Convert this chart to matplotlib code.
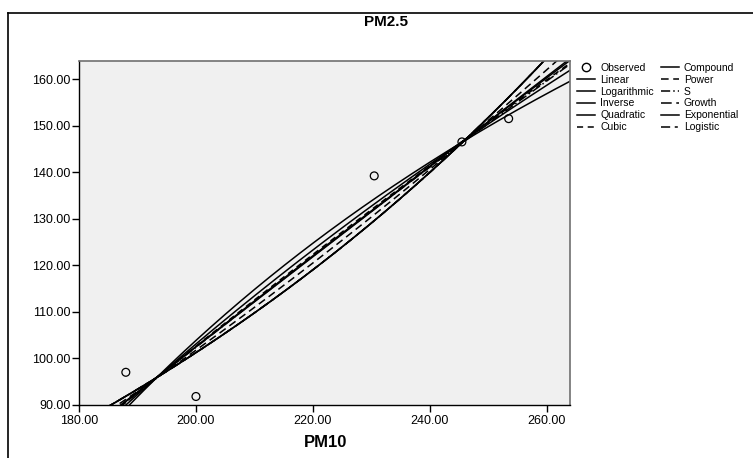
import numpy as np
import matplotlib
matplotlib.use("Agg")
import matplotlib.pyplot as plt
from matplotlib.lines import Line2D

plt.rcParams['font.family'] = ['Liberation Sans', 'DejaVu Sans']

pm10 = np.array([188.0, 200.0, 230.5, 245.5, 253.5])
pm25 = np.array([97.0, 91.8, 139.2, 146.5, 151.5])

x_ticks = [180, 200, 220, 240, 260]
y_ticks = [90, 100, 110, 120, 130, 140, 150, 160]

col1 = ["Observed", "Linear", "Logarithmic", "Inverse", "Quadratic", "Cubic"]
col2 = ["Compound", "Power", "S", "Growth", "Exponential", "Logistic"]

styles = {
    "Linear": "-", "Logarithmic": "-", "Inverse": "-", "Quadratic": "-",
    "Cubic": (0, (4, 3)), "Compound": "-", "Power": (0, (5, 3)),
    "S": (0, (6, 2, 1, 2)), "Growth": (0, (7, 3)), "Exponential": "-",
    "Logistic": (0, (6, 3, 2, 3)),
}


def fit(name, xs):
    x, y = pm10, pm25
    if name == "Linear":
        return np.polyval(np.polyfit(x, y, 1), xs)
    if name == "Logarithmic":
        return np.polyval(np.polyfit(np.log(x), y, 1), np.log(xs))
    if name == "Inverse":
        return np.polyval(np.polyfit(1 / x, y, 1), 1 / xs)
    if name == "Quadratic":
        return np.polyval(np.polyfit(x, y, 2), xs)
    if name == "Cubic":
        # squared term dropped for tolerance (as SPSS does), keep x and x^3
        A = np.column_stack([np.ones_like(x), x, x ** 3])
        b = np.linalg.lstsq(A, y, rcond=None)[0]
        return b[0] + b[1] * xs + b[2] * xs ** 3
    if name == "Power":
        return np.exp(np.polyval(np.polyfit(np.log(x), np.log(y), 1), np.log(xs)))
    if name == "S":
        return np.exp(np.polyval(np.polyfit(1 / x, np.log(y), 1), 1 / xs))
    # compound, growth, exponential, logistic (no upper bound) share one curve
    return np.exp(np.polyval(np.polyfit(x, np.log(y), 1), xs))


fig = plt.figure(figsize=(7.53, 4.58), dpi=100)
ax = fig.add_axes([0.105, 0.116, 0.652, 0.751])
ax.set_facecolor("#f0f0f0")

xs = np.linspace(180, 264, 400)
for name in col1[1:] + col2:
    ax.plot(xs, fit(name, xs), color="black", lw=1.1, linestyle=styles[name])

ax.scatter(pm10, pm25, s=32, facecolors="none", edgecolors="black", linewidths=0.9, zorder=5)

ax.set_xlim(180, 264)
ax.set_ylim(90, 163.9)
ax.set_xticks(x_ticks)
ax.set_yticks(y_ticks)
ax.xaxis.set_major_formatter(matplotlib.ticker.FormatStrFormatter("%.2f"))
ax.yaxis.set_major_formatter(matplotlib.ticker.FormatStrFormatter("%.2f"))
ax.tick_params(direction="out", length=5, width=1, labelsize=9, colors="black", pad=1)
ax.tick_params(axis="x", pad=2)
for s in ["top", "right"]:
    ax.spines[s].set_color("#707070")
    ax.spines[s].set_linewidth(1.2)
for s in ["left", "bottom"]:
    ax.spines[s].set_color("black")
    ax.spines[s].set_linewidth(1.0)

fig.text(0.512, 0.953, "PM2.5", ha="center", va="center", fontsize=11, fontweight="bold")
fig.text(0.432, 0.033, "PM10", ha="center", va="center", fontsize=12, fontweight="bold")

# legend
handles = [Line2D([], [], marker="o", linestyle="none", markerfacecolor="none",
                  markeredgecolor="black", markersize=6)]
handles += [Line2D([], [], color="black", lw=1.1, linestyle=styles[n]) for n in col1[1:]]
handles += [Line2D([], [], color="black", lw=1.1, linestyle=styles[n]) for n in col2]
fig.legend(handles, col1 + col2, ncol=2, loc="upper left", bbox_to_anchor=(0.761, 0.872),
           frameon=False, fontsize=7.5, handlelength=1.7, handletextpad=0.5,
           columnspacing=0.7, labelspacing=0.18, borderaxespad=0)

# outer frame (extends off the bottom/right edge)
fig.add_artist(Line2D([8 / 753, 8 / 753], [1 - 13 / 458, 0], color="black", lw=1.2))
fig.add_artist(Line2D([8 / 753, 1], [1 - 13 / 458, 1 - 13 / 458], color="black", lw=1.2))

fig.savefig("out.png", dpi=100)
